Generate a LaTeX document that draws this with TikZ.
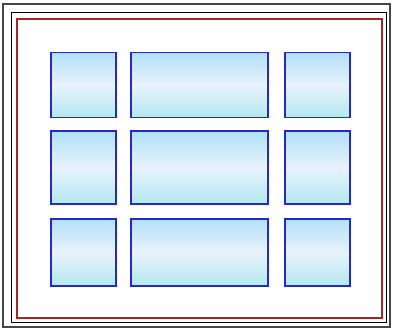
\documentclass[tikz,border=0pt]{standalone}
\begin{document}
\begin{tikzpicture}[x=1pt,y=-1pt,
  cell/.style={draw={rgb,255:red,40;green,40;blue,200},line width=1.2pt,
    top color={rgb,255:red,178;green,224;blue,246},
    bottom color={rgb,255:red,178;green,232;blue,240},
    middle color={rgb,255:red,232;green,242;blue,252}},
  frameout/.style={draw={rgb,255:red,70;green,70;blue,70},line width=1.1pt},
  framein/.style={draw=black,line width=0.9pt},
  framered/.style={draw={rgb,255:red,160;green,40;blue,40},line width=1.1pt}]
\useasboundingbox (0,0) rectangle (394,332);
\fill[white] (0,0) rectangle (394,332);
\draw[frameout] (3,4) rectangle (390,327);
\draw[framein] (11,12) rectangle (386,322);
\draw[framered] (17,19) rectangle (382,318);
% row 1
\node[cell,minimum width=65pt,minimum height=65pt,inner sep=0] (a1) at (83.5,85) {};
\node[cell,minimum width=137pt,minimum height=65pt,inner sep=0] (b1) at (199.5,85) {};
\node[cell,minimum width=65pt,minimum height=65pt,inner sep=0] (c1) at (317.5,85) {};
% row 2
\node[cell,minimum width=65pt,minimum height=73pt,inner sep=0] (a2) at (83.5,167.5) {};
\node[cell,minimum width=137pt,minimum height=73pt,inner sep=0] (b2) at (199.5,167.5) {};
\node[cell,minimum width=65pt,minimum height=73pt,inner sep=0] (c2) at (317.5,167.5) {};
% row 3
\node[cell,minimum width=65pt,minimum height=67pt,inner sep=0] (a3) at (83.5,252.5) {};
\node[cell,minimum width=137pt,minimum height=67pt,inner sep=0] (b3) at (199.5,252.5) {};
\node[cell,minimum width=65pt,minimum height=67pt,inner sep=0] (c3) at (317.5,252.5) {};
\end{tikzpicture}
\end{document}
